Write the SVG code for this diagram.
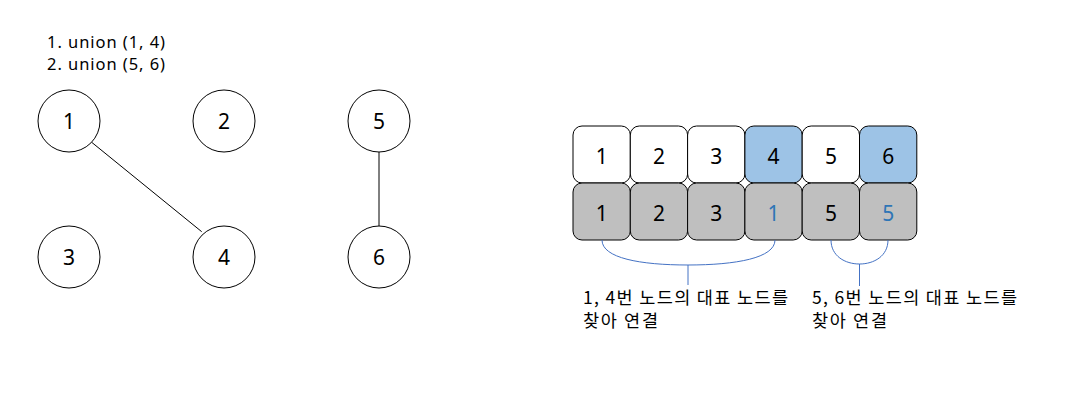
<svg xmlns="http://www.w3.org/2000/svg" width="1071" height="406" viewBox="0 0 1071 406">
<style>
text{font-family:"Noto Sans","Noto Sans CJK KR",sans-serif;fill:#000}
.c{fill:#fff;stroke:#000;stroke-width:1}
.n{font-size:21px;text-anchor:middle}
.w{fill:#fff;stroke:#000;stroke-width:1}
.b{fill:#9DC3E6;stroke:#000;stroke-width:1}
.g{fill:#BFBFBF;stroke:#000;stroke-width:1}
.bt{fill:#2E75B6}
.e{stroke:#000;stroke-width:1;fill:none}
.br{stroke:#4472C4;stroke-width:1;fill:none}
.k{font-size:17.5px;font-family:"Noto Sans CJK KR","Noto Sans",sans-serif}
.h{font-size:16.5px}
</style>
<rect width="1071" height="406" fill="#fff"/>
<g id="header">
<text class="h" x="47" y="48" textLength="118" lengthAdjust="spacing">1. union (1, 4)</text>
<text class="h" x="47" y="70" textLength="118" lengthAdjust="spacing">2. union (5, 6)</text>
</g>
<g id="edges">
<line class="e" x1="91.7" y1="142.3" x2="201.7" y2="231.7"/>
<line class="e" x1="379" y1="152" x2="379" y2="226"/>
</g>
<g id="node1"><circle class="c" cx="69" cy="121" r="31"/><text class="n" x="69" y="128.5">1</text></g>
<g id="node2"><circle class="c" cx="224" cy="121" r="31"/><text class="n" x="224" y="128.5">2</text></g>
<g id="node5"><circle class="c" cx="379" cy="121" r="31"/><text class="n" x="379" y="128.5">5</text></g>
<g id="node3"><circle class="c" cx="69" cy="257" r="31"/><text class="n" x="69" y="264.5">3</text></g>
<g id="node4"><circle class="c" cx="224" cy="257" r="31"/><text class="n" x="224" y="264.5">4</text></g>
<g id="node6"><circle class="c" cx="379" cy="257" r="31"/><text class="n" x="379" y="264.5">6</text></g>
<g id="table-index">
<rect class="w" x="573" y="126" width="57.3" height="57" rx="9"/><text class="n" x="601.7" y="163.5">1</text>
<rect class="w" x="630.3" y="126" width="57.3" height="57" rx="9"/><text class="n" x="659" y="163.5">2</text>
<rect class="w" x="687.6" y="126" width="57.3" height="57" rx="9"/><text class="n" x="716.3" y="163.5">3</text>
<rect class="b" x="744.9" y="126" width="57.3" height="57" rx="9"/><text class="n" x="773.6" y="163.5">4</text>
<rect class="w" x="802.2" y="126" width="57.3" height="57" rx="9"/><text class="n" x="830.9" y="163.5">5</text>
<rect class="b" x="859.5" y="126" width="57.3" height="57" rx="9"/><text class="n" x="888.2" y="163.5">6</text>
</g>
<g id="table-parent">
<rect class="g" x="573" y="183" width="57.3" height="57" rx="9"/><text class="n" x="601.7" y="220.5">1</text>
<rect class="g" x="630.3" y="183" width="57.3" height="57" rx="9"/><text class="n" x="659" y="220.5">2</text>
<rect class="g" x="687.6" y="183" width="57.3" height="57" rx="9"/><text class="n" x="716.3" y="220.5">3</text>
<rect class="g" x="744.9" y="183" width="57.3" height="57" rx="9"/><text class="n bt" x="773.6" y="220.5">1</text>
<rect class="g" x="802.2" y="183" width="57.3" height="57" rx="9"/><text class="n" x="830.9" y="220.5">5</text>
<rect class="g" x="859.5" y="183" width="57.3" height="57" rx="9"/><text class="n bt" x="888.2" y="220.5">5</text>
</g>
<g id="braces">
<path class="br" d="M602,240 C602,258 640,265 688,265 C736,265 775,258 775,240"/>
<line class="br" x1="688" y1="265" x2="688" y2="285"/>
<path class="br" d="M831,240 C831,256 845,264 859.5,264 C874,264 888,256 888,240"/>
<line class="br" x1="859.5" y1="264" x2="859.5" y2="286"/>
</g>
<g id="label1">
<text class="k" x="583" y="304" textLength="205" lengthAdjust="spacing">1, 4번 노드의 대표 노드를</text>
<text class="k" x="583" y="327" textLength="75" lengthAdjust="spacing">찾아 연결</text>
</g>
<g id="label2">
<text class="k" x="812" y="304" textLength="205" lengthAdjust="spacing">5, 6번 노드의 대표 노드를</text>
<text class="k" x="812" y="327" textLength="75" lengthAdjust="spacing">찾아 연결</text>
</g>
</svg>
